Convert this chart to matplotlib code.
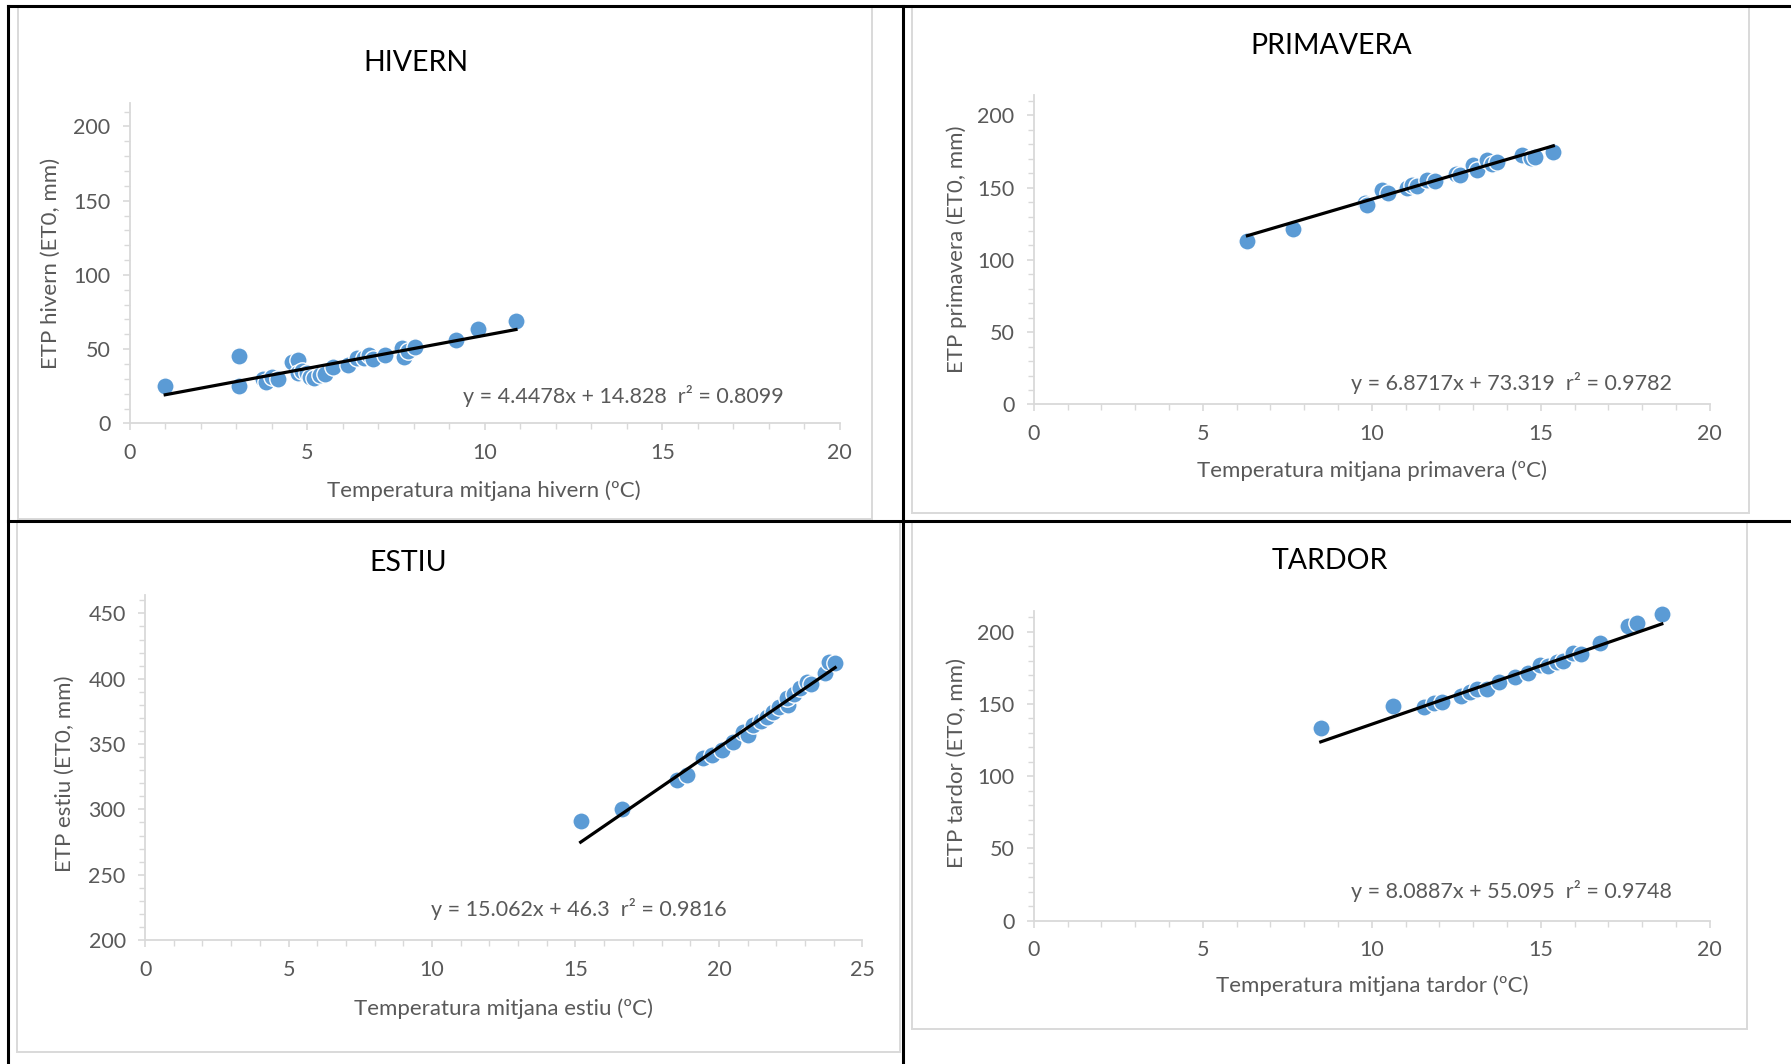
import matplotlib
matplotlib.use("Agg")
import matplotlib.pyplot as plt
from matplotlib.lines import Line2D
from matplotlib.patches import Rectangle
from matplotlib.ticker import MultipleLocator

plt.rcParams['font.family'] = ['Lato', 'DejaVu Sans']

W, H = 1791, 1064

# --- dades llegides del grafic ---
hivern_x = [1.0, 3.09, 3.09, 3.76, 3.85, 4.0, 4.19, 4.56, 4.75, 4.75, 4.85, 4.98, 5.08, 5.2,
            5.36, 5.5, 5.74, 6.16, 6.39, 6.6, 6.75, 6.85, 7.19, 7.66, 7.73, 7.85, 8.04,
            9.19, 9.82, 10.88]
hivern_y = [25.2, 45.4, 25.2, 29.7, 28.0, 31.0, 29.7, 41.5, 42.7, 33.7, 35.5, 34.1, 31.5, 30.5,
            32.6, 33.0, 37.8, 39.3, 43.8, 44.0, 46.1, 43.5, 46.1, 50.6, 44.9, 48.5, 51.2,
            56.2, 63.4, 69.2]

primavera_x = [6.32, 7.66, 9.8, 9.87, 10.29, 10.49, 11.03, 11.2, 11.35, 11.62, 11.87, 12.5,
               12.61, 13.0, 13.10, 13.40, 13.55, 13.69, 14.43, 14.7, 14.83, 15.37]
primavera_y = [113.3, 121.2, 139.5, 138.0, 148.4, 146.5, 149.5, 152.0, 151.1, 155.3, 154.8, 159.5,
               158.8, 165.7, 162.2, 169.1, 166.5, 168.0, 172.6, 170.5, 171.4, 174.9]

estiu_x = [15.18, 16.61, 18.53, 18.90, 19.46, 19.75, 20.10, 20.50, 20.85, 21.0, 21.20, 21.45,
           21.67, 21.90, 22.1, 22.42, 22.36, 22.6, 22.83, 23.06, 23.2, 23.70, 23.85, 24.05]
estiu_y = [291.4, 300.3, 322.5, 326.3, 339.1, 341.6, 345.5, 351.8, 359.5, 357.0, 364.6, 367.5,
           371.0, 374.8, 378.0, 379.9, 385.0, 388.0, 392.7, 397.7, 396.0, 404.2, 413.0, 411.8]

tardor_x = [8.49, 10.62, 11.54, 11.85, 12.07, 12.63, 12.9, 13.12, 13.40, 13.76, 14.24, 14.63,
            14.98, 15.2, 15.47, 15.67, 15.96, 16.2, 16.75, 17.59, 17.84, 18.58]
tardor_y = [133.1, 148.8, 147.7, 150.5, 151.6, 155.5, 158.0, 160.1, 160.1, 165.4, 168.4, 171.6,
            177.0, 176.0, 179.2, 179.9, 185.0, 184.5, 192.0, 203.9, 205.8, 212.2]

# pendent, ordenada, r2 (de les etiquetes)
coefs = {
    "HIVERN": (4.4478, 14.828, "0.8099"),
    "PRIMAVERA": (6.8717, 73.319, "0.9782"),
    "ESTIU": (15.062, 46.3, "0.9816"),
    "TARDOR": (8.0887, 55.095, "0.9748"),
}

BLUE = "#5B9BD5"
GRAY = "#595959"
AXC = "#D9D9D9"

fig = plt.figure(figsize=(W / 100, H / 100), dpi=100)
fig.patch.set_facecolor("white")


def fx(x):
    return x / W


def fy(y):
    return 1 - y / H


def px_axes(x0, x1, ytop, ybot):
    return fig.add_axes([fx(x0), fy(ybot), (x1 - x0) / W, (ybot - ytop) / H])


def frame(x0, x1, y0, y1):
    fig.add_artist(Rectangle((fx(x0), fy(y1)), (x1 - x0) / W, (y1 - y0) / H,
                             transform=fig.transFigure, fill=False,
                             edgecolor=AXC, linewidth=1.4))


def panel(ax, name, xs, ys, xlim, ylim, ymaj, xmaj):
    ax.scatter(xs, ys, s=155, color=BLUE, edgecolor="white", linewidth=1.0, zorder=3,
               clip_on=False)
    a, b, r2 = coefs[name]
    x0, x1 = min(xs), max(xs)
    ax.plot([x0, x1], [a * x0 + b, a * x1 + b], color="black", linewidth=2.3, zorder=4)
    ax.set_xlim(*xlim)
    ax.set_ylim(*ylim)
    ax.xaxis.set_major_locator(MultipleLocator(xmaj))
    ax.xaxis.set_minor_locator(MultipleLocator(1))
    ax.yaxis.set_major_locator(MultipleLocator(ymaj))
    ax.yaxis.set_minor_locator(MultipleLocator(10))
    for s in ["top", "right"]:
        ax.spines[s].set_visible(False)
    for s in ["left", "bottom"]:
        ax.spines[s].set_color(AXC)
        ax.spines[s].set_linewidth(1.3)
    ax.tick_params(which="major", length=5, width=1.2, color=AXC, labelsize=15.5,
                   labelcolor=GRAY, pad=9)
    ax.tick_params(which="minor", length=4, width=1.0, color=AXC)
    ax.set_facecolor("none")


# marcs grisos dels grafics
frame(18, 872, 7, 519)
frame(912, 1749, 7, 513)
frame(17, 900, 522, 1052)
frame(912, 1747, 522, 1029)

ax1 = px_axes(129.7, 839.8, 423.4 - 216 * 1.485, 423.4)
panel(ax1, "HIVERN", hivern_x, hivern_y, (0, 20), (0, 216), 50, 5)

ax2 = px_axes(1033.8, 1709.8, 404.4 - 214 * 1.445, 404.4)
panel(ax2, "PRIMAVERA", primavera_x, primavera_y, (0, 20), (0, 214), 50, 5)

ax3 = px_axes(145.1, 862.4, 940.1 - 264 * 1.3068, 940.1)
panel(ax3, "ESTIU", estiu_x, estiu_y, (0, 25), (200, 464), 50, 5)

ax4 = px_axes(1033.8, 1709.8, 920.7 - 214 * 1.445, 920.7)
panel(ax4, "TARDOR", tardor_x, tardor_y, (0, 20), (0, 214), 50, 5)

# textos
titles = [("HIVERN", 416, 63), ("PRIMAVERA", 1331, 46), ("ESTIU", 408, 563), ("TARDOR", 1330, 561)]
for t, x, y in titles:
    fig.text(fx(x), fy(y), t, fontsize=20.5, color="black", ha="center", va="center")

xlabels = [("Temperatura mitjana hivern (ºC)", 484, 491),
           ("Temperatura mitjana primavera (ºC)", 1372, 471),
           ("Temperatura mitjana estiu (ºC)", 504, 1009),
           ("Temperatura mitjana tardor (ºC)", 1372, 986)]
for t, x, y in xlabels:
    fig.text(fx(x), fy(y), t, fontsize=16, color=GRAY, ha="center", va="center")

ylabels = [("ETP hivern (ET0, mm)", 51, 263),
           ("ETP primavera (ET0, mm)", 957, 249),
           ("ETP estiu (ET0, mm)", 65, 774),
           ("ETP tardor (ET0, mm)", 957, 763)]
for t, x, y in ylabels:
    fig.text(fx(x), fy(y), t, fontsize=16, color=GRAY, ha="center", va="center", rotation=90)

eqs = [("HIVERN", 463, 396), ("PRIMAVERA", 1351, 383), ("ESTIU", 431, 909), ("TARDOR", 1351, 891)]
for name, x, y in eqs:
    a, b, r2 = coefs[name]
    fig.text(fx(x), fy(y), "y = %sx + %s  r² = %s" % (a, b, r2), fontsize=15.5, color=GRAY,
             ha="left", va="center")

# linies negres de la taula
for (xa, ya, xb, yb) in [(8, 6, 1791, 6), (8, 6, 8, 1064), (903, 6, 903, 1064), (8, 521, 1791, 521)]:
    fig.add_artist(Line2D([fx(xa), fx(xb)], [fy(ya), fy(yb)], transform=fig.transFigure,
                          color="black", linewidth=2.2))

fig.savefig("out.png", dpi=100, facecolor="white")
